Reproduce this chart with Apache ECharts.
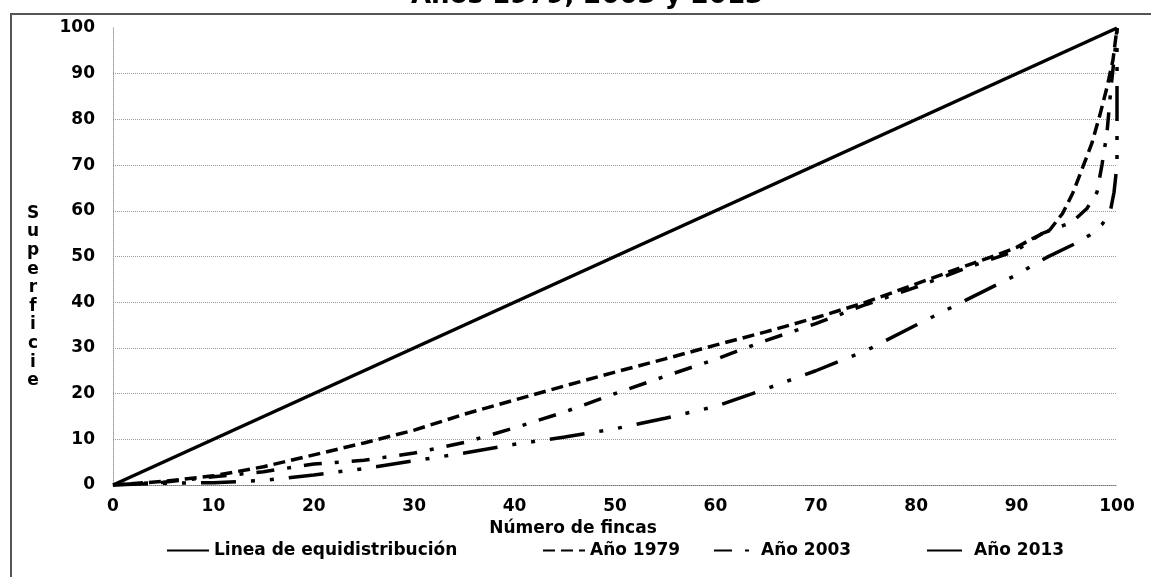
<!DOCTYPE html>
<html>
<head>
<meta charset="utf-8">
<script src="https://cdn.jsdelivr.net/npm/echarts@6/dist/echarts.min.js"></script>
<style>
  html, body { margin: 0; padding: 0; background: #fff; }
  #wrap { position: relative; width: 1151px; height: 577px; overflow: hidden; background: #fff; }
  #frame { position: absolute; left: 10px; top: 13px; width: 1141px; height: 564px;
           border-left: 2px solid #555; border-top: 2px solid #555; box-sizing: border-box; }
  #chart { position: absolute; left: 0; top: 0; width: 1151px; height: 577px; }
</style>
</head>
<body>
<div id="wrap">
  <div id="frame"></div>
  <div id="chart"></div>
</div>
<script>
// ---- data ----
const titleText = 'Años 1979, 2003 y 2013';
const xName = 'Número de fincas';
const yName = 'Superficie';
const seriesNames = ['Linea de equidistribución', 'Año 1979', 'Año 2003', 'Año 2013'];

const xEq = [0, 100];
const yEq = [0, 100];

const x1979 = [0, 5, 10, 15, 20, 25, 30, 35, 40, 45, 50, 55, 60, 65, 70, 75, 80, 85, 88, 90, 91.3, 93.3, 94.6, 95.6, 96.6, 97.5, 98.3, 99, 99.6, 100];
const y1979 = [0, 0.8, 2, 4, 6.6, 9.2, 12, 15.5, 18.6, 21.7, 24.7, 27.6, 30.6, 33.5, 36.6, 40, 44, 48, 50.3, 52, 53.6, 55.8, 59.5, 63.9, 69.6, 74.8, 81, 87, 93, 100];

const x2003 = [0, 5, 10, 15, 20, 25, 30, 35, 40, 45, 50, 55, 60, 65, 70, 75, 80, 85, 90, 92.5, 95.5, 97, 98, 98.5, 99, 99.4, 99.8, 100];
const y2003 = [0, 0.6, 1.8, 2.9, 4.6, 5.4, 7, 9.3, 12.5, 16, 20, 23.8, 27.5, 31.6, 35.3, 39.5, 43.3, 47.5, 51.3, 55, 57.5, 60.5, 64, 70, 77, 87, 95, 100];

const x2013 = [0, 5, 10, 15, 20, 25, 30, 35, 40, 45, 50, 55, 60, 65, 70, 75, 80, 85, 90, 93, 96, 97.3, 98.5, 99.3, 99.7, 100, 100];
const y2013 = [0, 0.4, 0.5, 1, 2.2, 3.6, 5.3, 7, 8.9, 10.5, 12.3, 14.6, 17.2, 21, 25, 29.4, 35, 40.5, 46, 49.8, 53, 54.7, 57, 59.5, 64, 70, 100];

const axisTicks = [0, 10, 20, 30, 40, 50, 60, 70, 80, 90, 100];

// ---- build ----
const pairs = (xs, ys) => xs.map((x, i) => [x, ys[i]]);
const FONT = 'DejaVu Sans';

const chart = echarts.init(document.getElementById('chart'), null, { renderer: 'canvas' });

const lineSeries = (name, data, width, dash) => ({
  name, type: 'line', data, symbol: 'none', smooth: false,
  lineStyle: { color: '#000', width, type: dash },
  itemStyle: { color: '#000' },
  emphasis: { disabled: true },
  z: 5
});

const legendText = { fontFamily: FONT, fontWeight: 'bold', fontSize: 17, color: '#000' };
const legendBase = { top: 537, itemWidth: 42, itemHeight: 14, itemGap: 0, textStyle: legendText,
                     selectedMode: false, itemStyle: { opacity: 0 } };

chart.setOption({
  animation: false,
  backgroundColor: 'transparent',
  grid: { left: 113, right: 34, top: 28, bottom: 92, containLabel: false },
  graphic: [
    { type: 'text', left: 411, top: -17,
      style: { text: titleText, fontFamily: FONT, fontWeight: 'bold', fontSize: 26, fill: '#000' } },
    { type: 'text', x: 33, y: 204,
      style: { text: yName.split('').join('\n'), fontFamily: FONT, fontWeight: 'bold', fontSize: 17,
               lineHeight: 18.6, textAlign: 'center', fill: '#000' } }
  ],
  legend: [
    Object.assign({}, legendBase, { left: 161, data: [seriesNames[0]] }),
    Object.assign({}, legendBase, { left: 537, data: [seriesNames[1]] }),
    Object.assign({}, legendBase, { left: 708, data: [seriesNames[2]] }),
    Object.assign({}, legendBase, { left: 921, data: [seriesNames[3]] })
  ],
  xAxis: {
    type: 'value', min: 0, max: 100, interval: 10,
    name: xName, nameLocation: 'middle', nameGap: 33,
    nameTextStyle: { fontFamily: FONT, fontWeight: 'bold', fontSize: 17, color: '#000', padding: [0, 84, 0, 0] },
    axisLine: { show: true, lineStyle: { color: '#777', width: 1, type: 'dotted' } },
    axisTick: { show: false },
    axisLabel: { margin: 13, fontFamily: FONT, fontWeight: 'bold', fontSize: 17, color: '#000',
                 formatter: v => axisTicks.includes(v) ? String(v) : '' },
    splitLine: { show: false }
  },
  yAxis: {
    type: 'value', min: 0, max: 100, interval: 10,
    axisLine: { show: true, lineStyle: { color: '#999', width: 1, type: 'dotted' } },
    axisTick: { show: false },
    axisLabel: { margin: 18, fontFamily: FONT, fontWeight: 'bold', fontSize: 17, color: '#000',
                 formatter: v => axisTicks.includes(v) ? String(v) : '' },
    splitLine: { show: true, showMinLine: false, showMaxLine: false,
                 lineStyle: { color: '#9a9a9a', width: 1, type: 'dotted' } }
  },
  series: [
    lineSeries(seriesNames[0], pairs(xEq, yEq), 3.5, 'solid'),
    lineSeries(seriesNames[1], pairs(x1979, y1979), 3.5, [12, 6]),
    lineSeries(seriesNames[2], pairs(x2003, y2003), 3.5, [18, 13, 4, 13]),
    lineSeries(seriesNames[3], pairs(x2013, y2013), 3.5, [35, 15, 4, 15, 4, 15])
  ]
});
</script>
</body>
</html>
